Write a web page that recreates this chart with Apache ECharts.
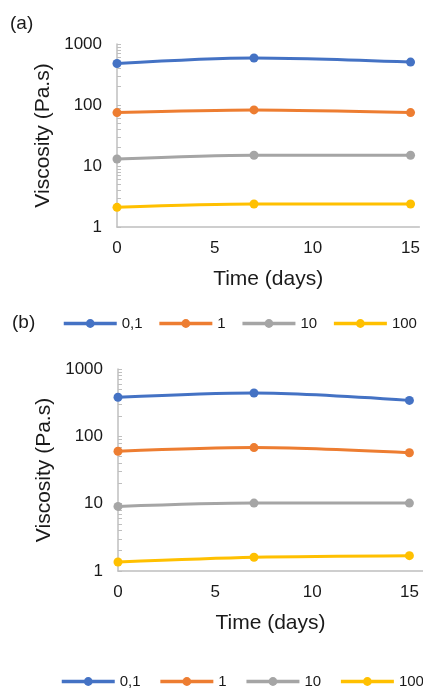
<!DOCTYPE html>
<html>
<head>
<meta charset="utf-8">
<script src="https://cdn.jsdelivr.net/npm/echarts@6/dist/echarts.min.js"></script>
<style>
  html, body { margin: 0; padding: 0; background: #fff; }
  #chart { width: 423px; height: 689px; }
</style>
</head>
<body>
<div id="chart"></div>
<script>
// data
const days = [0, 7, 15];
const seriesNames = ['0,1', '1', '10', '100'];

// panel (a)
const visA01 = [480, 590, 505];
const visA1 = [75, 83, 75];
const visA10 = [13, 15, 15];
const visA100 = [2.1, 2.38, 2.38];

// panel (b)
const visB01 = [380, 440, 342];
const visB1 = [60, 68, 57];
const visB10 = [9.1, 10.2, 10.2];
const visB100 = [1.36, 1.6, 1.69];

// tick labels
const xLabels = [0, 5, 10, 15];
const yMinorTicks = [1, 2, 3, 4, 5, 6, 7, 8, 9, 10, 20, 30, 40, 50, 60, 70, 80, 90,
  100, 200, 300, 400, 500, 600, 700, 800, 900, 1000];

const colors = ['#4472C4', '#ED7D31', '#A5A5A5', '#FFC000'];
const font = 'Liberation Sans, Arial, sans-serif';
const axisGrey = '#BFBFBF';

const chart = echarts.init(document.getElementById('chart'));

function xAxisOf(gridIndex, max) {
  return {
    type: 'value',
    gridIndex: gridIndex,
    min: 0,
    max: max,
    name: 'Time (days)',
    nameLocation: 'middle',
    nameGap: 42,
    nameTextStyle: { fontFamily: font, fontSize: 21, color: '#1a1a1a' },
    axisLine: { lineStyle: { color: axisGrey, width: 1.5 } },
    axisTick: { show: false },
    splitLine: { show: false },
    axisLabel: {
      customValues: xLabels,
      margin: 13,
      fontFamily: font,
      fontSize: 17,
      color: '#1a1a1a'
    }
  };
}

function yAxisOf(gridIndex) {
  return {
    type: 'log',
    logBase: 10,
    gridIndex: gridIndex,
    min: 1,
    max: 1000,
    name: 'Viscosity (Pa.s)',
    nameLocation: 'middle',
    nameGap: 56,
    nameTextStyle: { fontFamily: font, fontSize: 21, color: '#1a1a1a' },
    axisLine: { show: true, lineStyle: { color: axisGrey, width: 1.5 } },
    axisTick: {
      show: true,
      inside: true,
      length: 4,
      customValues: yMinorTicks,
      lineStyle: { color: axisGrey }
    },
    splitLine: { show: false },
    axisLabel: {
      margin: 15,
      fontFamily: font,
      fontSize: 17,
      color: '#1a1a1a',
      formatter: (v) => String(v)
    }
  };
}

function makeSeries(name, values, idx, axisIndex) {
  return {
    name: name,
    type: 'line',
    xAxisIndex: axisIndex,
    yAxisIndex: axisIndex,
    data: days.map((d, i) => [d, values[i]]),
    smooth: 0.3,
    symbol: 'circle',
    symbolSize: 9,
    lineStyle: { width: 3, color: colors[idx] },
    itemStyle: { color: colors[idx] }
  };
}

function legendOf(left, top, gap) {
  return {
    left: left,
    top: top,
    width: 600,
    padding: 0,
    data: seriesNames,
    itemWidth: 53,
    itemHeight: 11,
    itemGap: gap,
    lineStyle: { width: 3.5 },
    textStyle: { fontFamily: font, fontSize: 15, color: '#1a1a1a' }
  };
}

const panelA = [visA01, visA1, visA10, visA100];
const panelB = [visB01, visB1, visB10, visB100];

chart.setOption({
  animation: false,
  title: [
    { text: '(a)', left: 10, top: 14, padding: 0,
      textStyle: { fontFamily: font, fontSize: 19, fontWeight: 'normal', color: '#1a1a1a' } },
    { text: '(b)', left: 12, top: 313, padding: 0,
      textStyle: { fontFamily: font, fontSize: 19, fontWeight: 'normal', color: '#1a1a1a' } }
  ],
  legend: [legendOf(62, 316, 15), legendOf(60, 674, 18)],
  grid: [
    { left: 117, right: 0, top: 44, height: 183 },
    { left: 118, right: 0, top: 369, height: 202 }
  ],
  xAxis: [xAxisOf(0, 15.45), xAxisOf(1, 15.7)],
  yAxis: [yAxisOf(0), yAxisOf(1)],
  series: [
    ...panelA.map((v, i) => makeSeries(seriesNames[i], v, i, 0)),
    ...panelB.map((v, i) => makeSeries(seriesNames[i], v, i, 1))
  ]
});
</script>
</body>
</html>
